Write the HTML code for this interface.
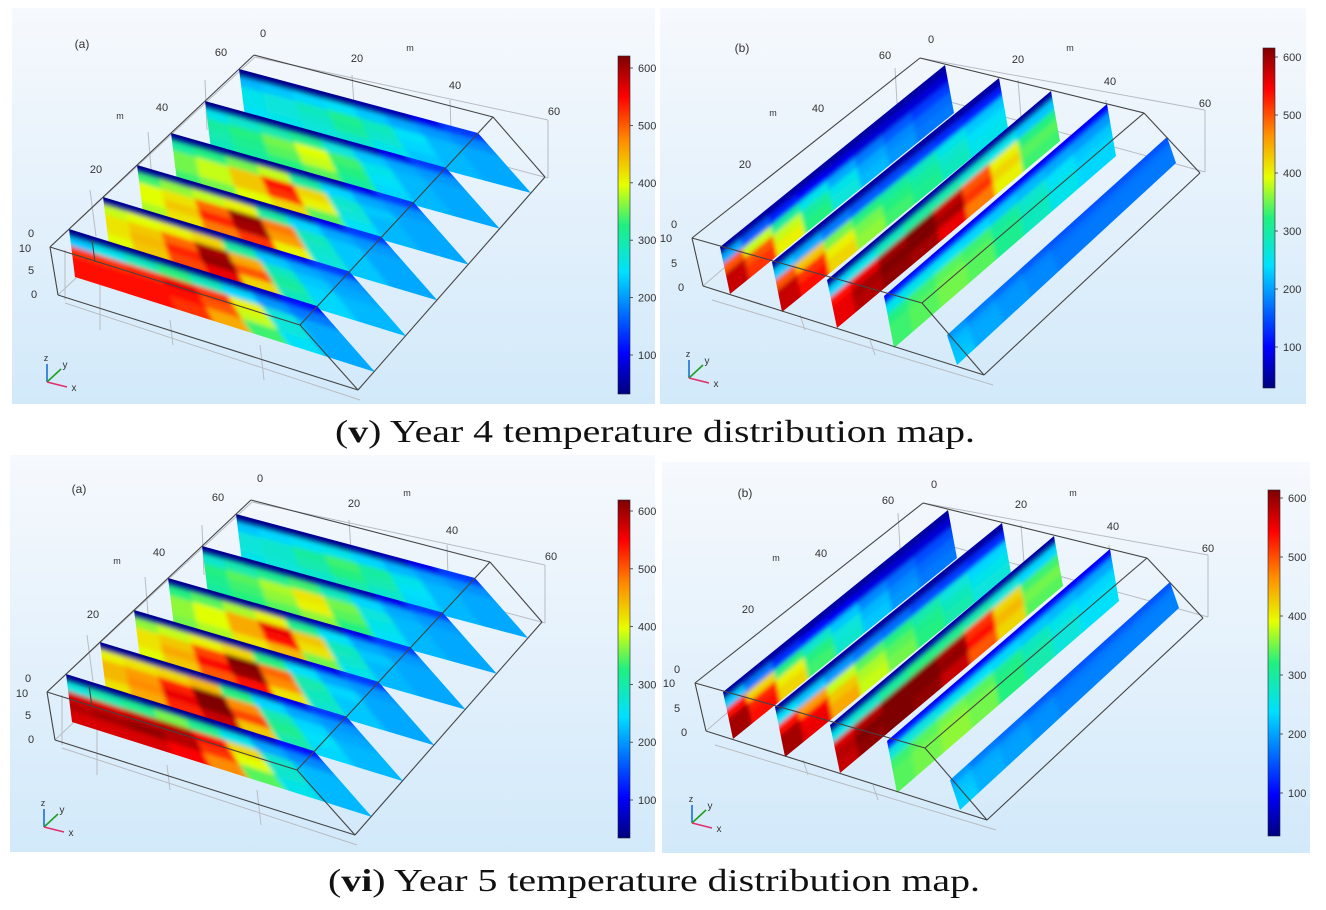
<!DOCTYPE html>
<html><head><meta charset="utf-8"><style>
html,body{margin:0;padding:0;background:#fff;}
svg{display:block;font-family:"Liberation Sans",sans-serif;}
</style></head><body>
<svg id="fig" width="1326" height="910" viewBox="0 0 1326 910" xmlns="http://www.w3.org/2000/svg">
<defs>
<linearGradient id="bg" x1="0" y1="0" x2="0" y2="1"><stop offset="0" stop-color="#f6f9fd"/><stop offset="1" stop-color="#d2e9fa"/></linearGradient>
<linearGradient id="cbar" x1="0" y1="1" x2="0" y2="0">
<stop offset="0" stop-color="#00007f"/><stop offset="0.12" stop-color="#0000ff"/><stop offset="0.36" stop-color="#00e0ff"/><stop offset="0.5" stop-color="#20f080"/><stop offset="0.62" stop-color="#e6ff00"/><stop offset="0.75" stop-color="#ff8c00"/><stop offset="0.88" stop-color="#ff0000"/><stop offset="1" stop-color="#7f0000"/></linearGradient>
<filter id="soft" x="-5%" y="-5%" width="110%" height="110%"><feGaussianBlur stdDeviation="2.2"/></filter>
</defs>
<g id="layer"></g>
<text x="335" y="442" font-family="Liberation Serif,serif" font-size="32" textLength="640" lengthAdjust="spacingAndGlyphs" fill="#111">(<tspan font-weight="bold">v</tspan>) Year 4 temperature distribution map.</text>
<text x="328" y="891" font-family="Liberation Serif,serif" font-size="32" textLength="652" lengthAdjust="spacingAndGlyphs" fill="#111">(<tspan font-weight="bold">vi</tspan>) Year 5 temperature distribution map.</text>
</svg>
<script>
// colorbar tick values
const cbTicks = [100,200,300,400,500,600];
const tMin = 20, tMax = 620;
// Year 4, view (a): 6 cross-sections (front to back), rows top->bottom, cols along x
const y4A = [
 [[30,30,30,30,30,40,60,100],[220,250,280,320,280,230,190,170],[520,520,530,560,520,400,260,200],[540,540,540,540,500,380,260,200],[540,540,540,520,450,330,240,200]],
 [[30,30,30,30,40,50,80,130],[380,390,400,420,300,220,200,190],[410,430,490,600,450,280,220,200],[410,440,530,610,500,300,230,210],[390,430,510,560,420,280,230,210]],
 [[30,30,30,30,40,50,80,130],[330,360,380,400,300,230,200,190],[390,410,490,610,480,280,220,200],[390,430,530,600,460,270,220,200],[370,410,480,520,400,260,220,200]],
 [[30,30,30,30,40,50,80,130],[300,320,350,380,300,230,200,190],[350,380,430,540,420,270,220,200],[350,380,430,520,400,260,210,200],[330,350,390,420,340,240,210,200]],
 [[30,30,30,30,40,50,80,130],[250,270,290,310,260,220,200,190],[300,320,350,390,330,250,210,200],[290,310,340,380,320,240,210,200],[280,300,320,340,300,230,210,200]],
 [[30,30,30,30,40,50,80,130],[210,220,230,240,220,200,190,180],[250,260,280,310,280,240,210,200],[250,260,270,300,270,230,210,200],[240,250,260,270,250,220,210,200]]
];
// Year 4, view (b): 5 longitudinal sections, cols front->back
const y4B = [
 [[40,40,40,40,40,40,40,40],[200,150,110,90,80,70,70,70],[500,380,300,250,200,170,150,130],[580,500,380,300,250,200,180,160],[580,520,400,320,260,210,190,170]],
 [[40,40,40,40,40,40,40,40],[220,200,170,150,140,130,120,110],[500,430,350,320,300,280,250,220],[580,520,400,350,320,300,270,240],[580,540,420,360,330,310,280,250]],
 [[40,40,40,40,40,40,40,40],[230,250,280,300,290,270,250,220],[540,560,600,620,580,500,400,320],[560,600,620,620,600,520,420,340],[560,590,610,600,560,480,400,330]],
 [[100,100,90,90,90,90,90,90],[250,250,240,230,220,210,200,190],[320,330,340,330,300,270,240,220],[330,340,350,340,310,280,250,230],[330,340,350,340,310,280,250,230]],
 [[190,170,160,150,145,145,145,145],[210,195,185,175,165,165,165,165],[215,200,190,180,170,170,170,170],[220,200,190,180,170,170,170,170]]
];
// Year 5
const y5A = [
 [[30,30,30,30,30,40,60,100],[260,290,310,350,310,250,200,180],[570,570,580,590,550,420,270,210],[590,600,610,590,520,390,270,210],[570,570,570,550,470,340,250,210]],
 [[30,30,30,30,40,50,80,130],[400,410,420,440,320,230,200,190],[440,460,530,620,470,290,230,200],[440,470,560,620,510,310,240,210],[410,450,530,580,430,290,230,210]],
 [[30,30,30,30,40,50,80,130],[360,380,400,420,320,240,200,190],[410,430,510,620,490,290,230,200],[410,450,550,610,470,280,220,200],[390,430,500,540,410,270,220,200]],
 [[30,30,30,30,40,50,80,130],[320,340,370,400,310,240,200,190],[360,390,450,560,430,280,220,200],[360,390,450,540,410,270,210,200],[350,370,410,440,350,250,210,200]],
 [[30,30,30,30,40,50,80,130],[270,290,310,330,280,230,200,190],[320,340,370,410,350,260,210,200],[310,330,360,400,340,250,210,200],[300,320,340,360,320,240,210,200]],
 [[30,30,30,30,40,50,80,130],[220,230,240,250,230,210,195,185],[260,270,300,330,300,250,210,200],[260,270,290,320,290,240,210,200],[250,260,270,290,270,230,210,200]]
];
const y5B = [
 [[40,40,40,40,40,40,40,40],[220,170,120,100,85,75,70,70],[540,420,320,270,220,180,160,140],[600,530,400,320,260,210,180,160],[600,540,420,330,270,220,190,170]],
 [[40,40,40,40,40,40,40,40],[240,220,190,170,160,140,130,120],[540,460,380,340,320,290,260,230],[600,550,430,370,340,310,280,250],[600,560,450,380,350,320,290,260]],
 [[40,40,40,40,40,40,40,40],[250,270,300,320,310,290,260,230],[570,590,620,620,600,520,420,330],[590,620,620,620,610,540,440,350],[580,610,620,610,580,500,420,340]],
 [[100,100,90,90,90,90,90,90],[260,260,250,240,230,220,210,200],[330,340,350,340,310,280,250,230],[340,350,360,350,320,290,260,240],[340,350,360,350,320,290,260,240]],
 [[190,170,160,150,145,145,145,145],[215,200,190,180,170,170,170,170],[220,205,195,185,175,175,175,175],[225,205,195,185,175,175,175,175]]
];

const NS="http://www.w3.org/2000/svg";
const layer=document.getElementById('layer');
function mk(tag,attrs,parent){const e=document.createElementNS(NS,tag);for(const k in attrs)e.setAttribute(k,attrs[k]);(parent||layer).appendChild(e);return e;}
const stops=[[0,[0,0,127]],[0.12,[0,0,255]],[0.36,[0,224,255]],[0.5,[32,240,128]],[0.62,[230,255,0]],[0.75,[255,140,0]],[0.88,[255,0,0]],[1,[127,0,0]]];
function color(v){let t=(v-tMin)/(tMax-tMin);t=Math.max(0,Math.min(1,t));
 for(let i=1;i<stops.length;i++){if(t<=stops[i][0]){const a=stops[i-1],b=stops[i];const f=(t-a[0])/(b[0]-a[0]);
  const c=a[1].map((x,j)=>Math.round(x+(b[1][j]-x)*f));return `rgb(${c[0]},${c[1]},${c[2]})`;}}return 'rgb(127,0,0)';}
function lerp(p,q,t){return [p[0]+(q[0]-p[0])*t,p[1]+(q[1]-p[1])*t];}
function quadPt(Q,u,v){const top=lerp(Q[0],Q[1],u),bot=lerp(Q[3],Q[2],u);return lerp(top,bot,v);}
let clipId=0;
function drawSlice(Q,M,parent,name){
 const id='c'+(clipId++);
 const cp=mk('clipPath',{id:id},parent);
 mk('polygon',{points:Q.map(p=>p.join(',')).join(' ')},cp);
 const g=mk('g',{'clip-path':`url(#${id})`},parent);
 
 
 const inner=mk('g',{filter:'url(#soft)'},g);
 const R=M.length,C=M[0].length;
 for(let r=0;r<R;r++)for(let c=0;c<C;c++){
  const ua=c===0?-0.1:c/C-.04, ub=c===C-1?1.1:(c+1)/C+.04;
  const va=r===0?-0.2:r/R-.04, vb=r===R-1?1.2:(r+1)/R+.04;
  const pts=[quadPt(Q,ua,va),quadPt(Q,ub,va),quadPt(Q,ub,vb),quadPt(Q,ua,vb)];
  const cell=mk('polygon',{points:pts.map(p=>p.map(n=>n.toFixed(1)).join(',')).join(' '),fill:color(M[r][c])},inner);
  
  
 }
}
function txt(x,y,s,size,parent,name,anchor){const t=mk('text',{x:x,y:y,'font-size':size||11,fill:'#333','text-anchor':anchor||'middle'},parent);t.textContent=s;
 
 return t;}
function lines(pairs,dx,dy,parent,col,w){pairs.forEach(p=>{const l=mk('line',{x1:p[0]+dx,y1:p[1]+dy,x2:p[2]+dx,y2:p[3]+dy,stroke:col,'stroke-width':w},parent);
 
 });}
function colorbar(x,yTop,yBot,v600,v100,parent){
 const r=mk('rect',{x:x,y:yTop,width:12,height:yBot-yTop,fill:'url(#cbar)',stroke:'#223','stroke-width':0.6},parent);
 
 
 cbTicks.forEach(t=>{const y=v100+(t-100)/500*(v600-v100);
  mk('line',{x1:x+12,y1:y,x2:x+15,y2:y,stroke:'#333','stroke-width':0.8},parent);
  txt(x+20,y+4,String(t),11,parent,'colorbar-tick-label','start');});
}
function triad(x,y,parent){
 const g=mk('g',{},parent);
 mk('line',{x1:x,y1:y,x2:x,y2:y-18,stroke:'#1a6fd6','stroke-width':1.6},g);
 mk('line',{x1:x,y1:y,x2:x+14,y2:y-13,stroke:'#20a020','stroke-width':1.6},g);
 mk('line',{x1:x,y1:y,x2:x+20,y2:y+5,stroke:'#e0306a','stroke-width':1.6},g);
 txt(x-1,y-21,'z',9,g,'z-label');txt(x+18,y-14,'y',10,g,'y-label');txt(x+27,y+9,'x',10,g,'x-label');
}
function panelA(dx,dy,data,bgRect,cb){
 const g=mk('g',{});
 const b=mk('rect',{x:bgRect[0],y:bgRect[1],width:bgRect[2],height:bgRect[3],fill:'url(#bg)'},g);
 
 lines([[50,247,255,57],[58,295,262,102],[65,303,360,400],[262,102,548,178],[255,57,548,120],[548,120,548,178],[90,190,96,236],[148,132,152,180],[205,80,207,130],[352,75,356,135],[450,100,452,160],[100,285,100,330],[170,320,173,345],[260,345,264,380],[65,250,65,300]],dx,dy,g,'#b8bcc2',1);
 for(let i=5;i>=0;i--){
  const Q=[[69+34*i+dx,229-32*i+dy],[317+32.2*i+dx,306-34.6*i+dy],[375+31.2*i+dx,372-35.8*i+dy],[75+34*i+dx,277-32*i+dy]];
  drawSlice(Q,data[i],g,'cross-section-'+(i+1));
 }
 lines([[50,247,300,325],[300,325,358,390],[50,247,58,295],[58,295,358,390],[254,55,493,117],[50,247,254,55],[300,325,493,117],[493,117,545,177],[358,390,545,177],[92,240,95,262]],dx,dy,g,'#444',1.1);
 const L=[[82,48,'(a)',12],[263,37,'0',11],[357,62,'20',11],[410,51,'m',9],[455,89,'40',11],[554,115,'60',11],[221,56,'60',11],[162,111,'40',11],[120,119,'m',9],[96,173,'20',11],[31,237,'0',11],[25,252,'10',11],[31,274,'5',11],[34,298,'0',11]];
 L.forEach(l=>txt(l[0]+dx,l[1]+dy,l[2],l[3],g,'axis-label'));
 triad(47+dx,382+dy,g);
 colorbar(cb[0],cb[1],cb[2],cb[3],cb[4],g);
}
function panelB(dx,dy,data,bgRect,cb){
 const g=mk('g',{});
 const b=mk('rect',{x:bgRect[0],y:bgRect[1],width:bgRect[2],height:bgRect[3],fill:'url(#bg)'},g);
 
 lines([[703,286,925,95],[712,300,993,385],[925,95,1205,172],[920,58,1205,110],[1205,110,1205,172],[775,230,778,255],[830,180,833,210],[895,68,898,120],[1018,80,1022,130],[1106,100,1110,150],[800,315,805,330],[870,340,875,355]],dx,dy,g,'#b8bcc2',1);
 const FT=[[720,247],[772,262],[827,280],[884,296],[947,335]];
 const BT=[[945,65],[999,78],[1051,91],[1107,104],[1167,137]];
 const HF=[47,50,48,52,30], HB=[48,50,50,52,26];
 for(let i=0;i<5;i++){
  const Q=[[FT[i][0]+dx,FT[i][1]+dy],[BT[i][0]+dx,BT[i][1]+dy],[BT[i][0]+9+dx,BT[i][1]+HB[i]+dy],[FT[i][0]+10+dx,FT[i][1]+HF[i]+dy]];
  drawSlice(Q,data[i],g,'longitudinal-section-'+(i+1));
 }
 lines([[692,238,922,303],[922,303,984,375],[692,238,703,286],[703,286,984,375],[692,238,920,58],[920,58,1144,113],[922,303,1144,113],[1144,113,1200,173],[984,375,1200,173]],dx,dy,g,'#444',1.1);
 const L=[[742,52,'(b)',12],[931,43,'0',11],[1070,51,'m',9],[1018,63,'20',11],[1110,85,'40',11],[1205,107,'60',11],[885,59,'60',11],[773,116,'m',9],[818,112,'40',11],[745,168,'20',11],[674,228,'0',11],[666,242,'10',11],[674,267,'5',11],[681,291,'0',11]];
 L.forEach(l=>txt(l[0]+dx,l[1]+dy,l[2],l[3],g,'axis-label'));
 triad(689+dx,378+dy,g);
 colorbar(cb[0],cb[1],cb[2],cb[3],cb[4],g);
}
panelA(0,0,y4A,[12,8,643,396],[618,56,394,68,355]);
panelB(0,0,y4B,[660,8,646,396],[1263,48,388,57,347]);
panelA(-3,445,y5A,[10,455,645,397],[618,500,838,511,800]);
panelB(3,445,y5B,[662,462,648,391],[1268,490,836,498,793]);
</script>
</body></html>
